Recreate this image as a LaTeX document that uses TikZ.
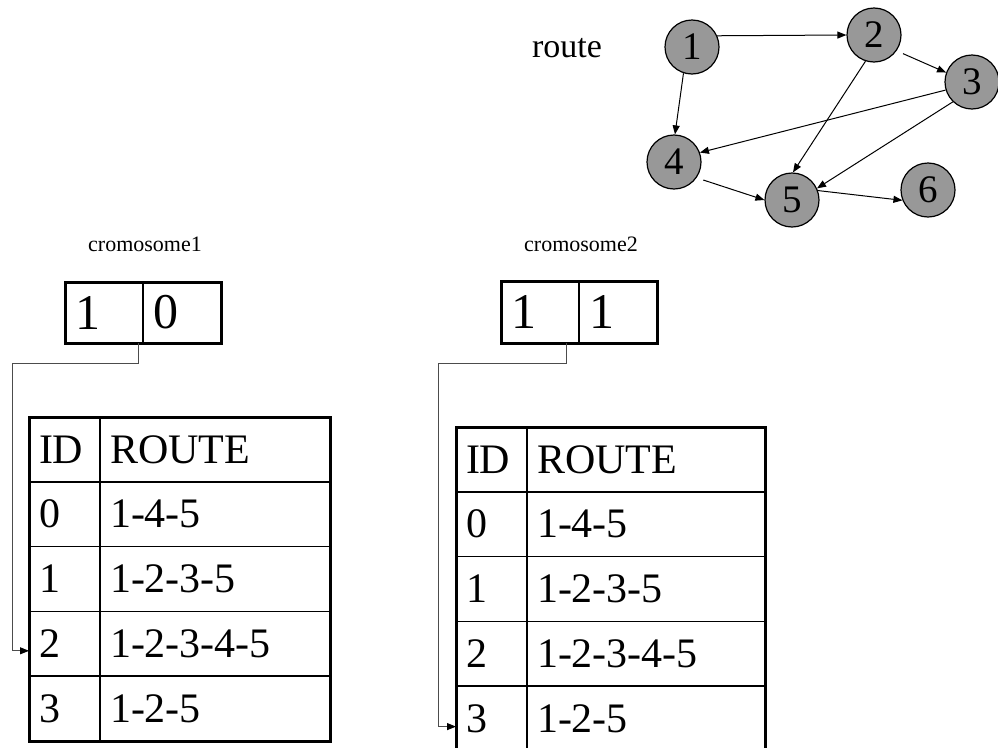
\documentclass[tikz,border=0pt]{standalone}
\usepackage{fontspec}
\setmainfont{Liberation Serif}
\usetikzlibrary{arrows.meta, positioning}

\definecolor{citygray}{RGB}{152,152,152}
\newcommand{\tabfont}{\fontsize{42}{42}\selectfont}
\newcommand{\genefont}{\fontsize{50}{50}\selectfont}
\newcommand{\cityfont}{\fontsize{39}{39}\selectfont}
\newcommand{\routefont}{\fontsize{34}{34}\selectfont}
\newcommand{\labelfont}{\fontsize{22}{22}\selectfont}

\begin{document}
\begin{tikzpicture}[
        x = 1pt, y = -1pt, % pixel grid, y runs down
        > = {Triangle[length=9pt, width=7pt]}, % arrow head style
        line width = 1pt,
    ]
    \useasboundingbox (0,0) rectangle (998,747);

    \tikzstyle{city}=[
        circle,
        draw = black,
        line width = 1.2pt,
        fill = citygray,
        minimum size = 54pt,
        inner sep = 0pt,
        font = \cityfont
    ]
    \tikzstyle{cell}=[
        draw = black,
        line width = 1.5pt,
        outer sep = 0pt,
        inner sep = 0pt,
        inner xsep = 10pt,
        minimum height = 64.8pt,
        align = left,
        anchor = north west,
        font = \tabfont
    ]
    \tikzstyle{idcell}=[cell, text width=51pt]
    \tikzset{routecell/.style={cell, text width=#1}}
    \tikzstyle{gene}=[cell, minimum height=61pt, text width=58pt, font=\genefont]
    \tikzstyle{link}=[draw=black!70, line width=1pt, -{Triangle[length=9pt, width=7pt, black]}]

    % route graph
    \node[font=\routefont, anchor=base] (route) at (567,57) {route};
    \node[city] (n1) at (692,47) {1};
    \node[city] (n2) at (874,35) {2};
    \node[city] (n3) at (972,82) {3};
    \node[city] (n4) at (674,162) {4};
    \node[city] (n5) at (792,200) {5};
    \node[city] (n6) at (928,190) {6};

    \draw[->] (n1.24) -- (n2.180);
    \draw[->] (n1.252) -- (n4.88);
    \draw[->, shorten <=7pt] (n2.-35) -- (n3.160);
    \draw[->] (n2.252) -- (n5.88);
    \draw[->] (n3.197) -- (n4.20);
    \draw[->] (n3.226) -- (n5.25);
    \draw[->, shorten <=7pt] (n4.-35) -- (n5.180);
    \draw[->] (n5.20) -- (n6.202);

    % cromosome1
    \node[font=\labelfont, anchor=base] (lab1) at (145,251) {cromosome1};
    \node[gene] (g1a) at (65,282) {1};
    \node[gene, right=0pt of g1a] (g1b) {0};
    \draw[line width=3pt] (g1a.north west) rectangle (g1b.south east);

    \node[idcell] (t1ih) at (29,417) {ID};
    \node[routecell=210pt, right=0pt of t1ih] (t1rh) {ROUTE};
    \foreach \i/\rt [remember=\i as \prev (initially h)] in {0/1-4-5, 1/1-2-3-5, 2/1-2-3-4-5, 3/1-2-5} {
        \node[idcell, below=0pt of t1i\prev] (t1i\i) {\i};
        \node[routecell=210pt, right=0pt of t1i\i] (t1r\i) {\rt};
    }
    \draw[line width=3pt] (t1ih.north west) rectangle (t1r3.south east);

    \draw[link] ([xshift=-5pt]g1a.south east) -- ++(0,20)
        -| ([xshift=-17pt, yshift=-7pt]t1i2.west) -- ([yshift=-7pt]t1i2.west);

    % cromosome2
    \node[font=\labelfont, anchor=base] (lab2) at (581,251) {cromosome2};
    \node[gene, minimum height=62pt] (g2a) at (501,281) {1};
    \node[gene, minimum height=62pt, right=0pt of g2a] (g2b) {1};
    \draw[line width=3pt] (g2a.north west) rectangle (g2b.south east);

    \node[idcell] (t2ih) at (456,427) {ID};
    \node[routecell=218pt, right=0pt of t2ih] (t2rh) {ROUTE};
    \foreach \i/\rt [remember=\i as \prev (initially h)] in {0/1-4-5, 1/1-2-3-5, 2/1-2-3-4-5, 3/1-2-5} {
        \node[idcell, below=0pt of t2i\prev] (t2i\i) {\i};
        \node[routecell=218pt, right=0pt of t2i\i] (t2r\i) {\rt};
    }
    \draw[line width=3pt] (t2i3.south west) -- (t2ih.north west)
        -- (t2rh.north east) -- (t2r3.south east);

    \draw[link] ([xshift=-13pt]g2a.south east) -- ++(0,20)
        -| ([xshift=-18pt, yshift=-8pt]t2i3.west) -- ([yshift=-8pt]t2i3.west);
\end{tikzpicture}
\end{document}
